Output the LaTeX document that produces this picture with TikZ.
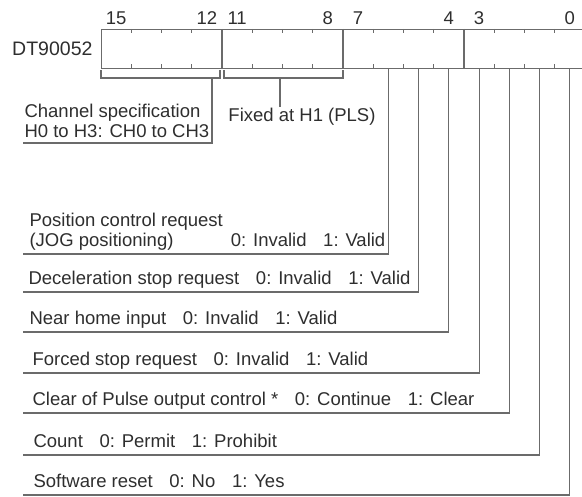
\documentclass[tikz,border=0pt]{standalone}
\usepackage{fontspec}
\setmainfont{Liberation Sans}
\usepackage{tikz}
\usetikzlibrary{positioning}

\newcommand{\valgap}{\hspace{0.9em}}

\begin{document}
\begin{tikzpicture}[x=1pt, y=-1pt, line width=1.1pt, draw=black!58,
    font=\fontsize{18.5}{20}\selectfont, text=black!82,
    desc/.style={anchor=south west, align=left, inner xsep=5pt, inner ysep=3pt, text depth=4pt},
    bitnum/.style={anchor=base, inner sep=0pt}]
        \useasboundingbox (0,0) rectangle (582,497);

        % Register
        \node (reg) [draw, anchor=north west, inner sep=0pt, minimum width=484pt, minimum height=39pt] at (101,29) {};
        \node (dt) [left=7pt of reg, inner sep=1pt, font=\fontsize{19.5}{20}\selectfont] {DT90052};
        \foreach \k in {4,8,12}
            \draw ({101+\k*30.25},29) -- ({101+\k*30.25},68);
        \foreach \k in {1,2,3,5,6,7,9,10,11,13,14,15} {
            \draw ({101+\k*30.25},29) -- ++(0,4);
            \draw ({101+\k*30.25},68) -- ++(0,-4);
        }
        \foreach \b in {15,12,11,8,7,4,3,0}
            \node[bitnum] at ({101+(15.5-\b)*30.25},25) {\b};
        \foreach \b in {0,...,6}
            \coordinate (b\b) at ({101+(15.5-\b)*30.25},68);

        % Brackets
        \draw (101,70) |- (220,78) -- (220,70);
        \draw (224,70) |- (343,78) -- (343,70);
        \coordinate (br1) at (212,78);
        \coordinate (br2) at (280,78);

        % Labels
        \node (chan) [desc, inner xsep=1pt, text depth=3pt, inner ysep=2pt] at (23,143) {Channel specification\\H0 to H3: CH0 to CH3};
        \node (fixed) [anchor=base, inner sep=1pt] at (302,122) {Fixed at H1 (PLS)};
        \node (jog) [desc, inner xsep=6pt] at (23,254) {Position control request\\(JOG positioning)\hspace{3.1em}0: Invalid\valgap 1: Valid};
        \node (decel) [desc] at (23,292) {Deceleration stop request\valgap 0: Invalid\valgap 1: Valid};
        \node (nearhome) [desc, inner xsep=6pt] at (23,332) {Near home input\valgap 0: Invalid\valgap 1: Valid};
        \node (forced) [desc, inner xsep=9pt] at (23,373) {Forced stop request\valgap 0: Invalid\valgap 1: Valid};
        \node (clearpls) [desc, inner xsep=9pt] at (23,413) {Clear of Pulse output control *\valgap 0: Continue\valgap 1: Clear};
        \node (count) [desc, inner xsep=10pt] at (23,455) {Count\valgap 0: Permit\valgap 1: Prohibit};
        \node (swreset) [desc, inner xsep=10pt] at (23,495) {Software reset\valgap 0: No\valgap 1: Yes};

        % Lines to bits
        \draw (chan.south west) -| (br1);
        \draw (br2) -- (br2 |- fixed.north);
        \draw (jog.south west) -| (b6);
        \draw (decel.south west) -| (b5);
        \draw (nearhome.south west) -| (b4);
        \draw (forced.south west) -| (b3);
        \draw (clearpls.south west) -| (b2);
        \draw (count.south west) -| (b1);
        \draw (swreset.south west) -| (b0);
    \end{tikzpicture}
\end{document}
